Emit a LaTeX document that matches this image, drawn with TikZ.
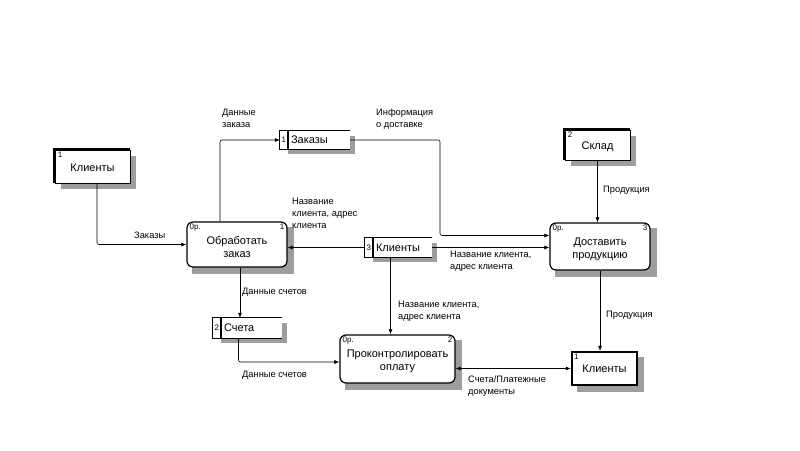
\documentclass[tikz,border=0pt]{standalone}
\usepackage{fontspec}
\setmainfont{Liberation Sans}
\usetikzlibrary{backgrounds,arrows.meta}

\tikzset{
  ext/.style={draw, fill=white, line width=0.8pt, font=\fontsize{11}{12}\selectfont},
  proc/.style={draw, fill=white, rounded corners=6pt, line width=1.2pt, align=center, font=\fontsize{11}{13}\selectfont},
  store/.style={fill=white, inner xsep=0pt, inner ysep=0pt, align=left, font=\fontsize{11}{12}\selectfont},
  num/.style={font=\fontsize{8}{8}\selectfont, inner sep=1pt},
  lbl/.style={font=\fontsize{9.3}{12}\selectfont, align=left, anchor=north west, inner sep=0pt},
  flow/.style={-{Latex[length=5pt,width=4pt]}, line width=0.6pt, rounded corners=2pt},
  hatch/.style={fill=black!38}
}

\begin{document}
\begin{tikzpicture}[x=1pt, y=-1pt]
	\useasboundingbox (0,0) rectangle (800,450);

	% external entities
	\node[ext, minimum width=75pt, minimum height=33pt] (klient1) at (92.5,166.5) {\rule{0pt}{11pt}Клиенты};
	\draw[line width=3pt] (klient1.south west) |- (klient1.north east);
	\node[num, anchor=north west] (n1) at ([xshift=2pt,yshift=-1pt]klient1.north west) {1};

	\node[ext, minimum width=65pt, minimum height=30pt] (sklad) at (597.5,145) {\rule{0pt}{11pt}Склад};
	\draw[line width=3pt] (sklad.south west) |- (sklad.north east);
	\node[num, anchor=north west] (n2) at ([xshift=2pt,yshift=-1pt]sklad.north west) {2};

	\node[ext, line width=2.4pt, minimum width=65pt, minimum height=33pt] (klient2) at (604.5,368.5) {Клиенты};
	\node[num, anchor=north west] (n3) at ([xshift=2pt,yshift=-2pt]klient2.north west) {1};

	% processes
	\node[proc, minimum width=100pt, minimum height=45pt] (obr) at (237,244.5) {\rule{0pt}{13pt}Обработать\\заказ};
	\node[num, anchor=north west] (p1a) at ([xshift=2pt,yshift=-1pt]obr.north west) {0р.};
	\node[num, anchor=north east] (p1b) at ([xshift=-2pt,yshift=-1pt]obr.north east) {1};

	\node[proc, minimum width=100pt, minimum height=47pt] (dost) at (600,246.5) {\rule{0pt}{13pt}Доставить\\продукцию};
	\node[num, anchor=north west] (p3a) at ([xshift=2pt,yshift=-1pt]dost.north west) {0р.};
	\node[num, anchor=north east] (p3b) at ([xshift=-2pt,yshift=-1pt]dost.north east) {3};

	\node[proc, minimum width=115pt, minimum height=48pt] (kontr) at (397.5,359) {\rule{0pt}{12pt}Проконтролировать\\оплату};
	\node[num, anchor=north west] (p2a) at ([xshift=2pt,yshift=-1pt]kontr.north west) {0р.};
	\node[num, anchor=north east] (p2b) at ([xshift=-2pt,yshift=-1pt]kontr.north east) {2};

	% data stores
	\node[store, text width=70pt, minimum height=18pt] (zakazy) at (315,140) {\hspace*{11pt}Заказы};
	\draw[line width=0.8pt] (zakazy.north east) -| (zakazy.south west) -- (zakazy.south east);
	\draw[line width=1.6pt] ([xshift=8pt]zakazy.north west) -- ([xshift=8pt]zakazy.south west);
	\node[num] (s1) at ([xshift=4pt]zakazy.west) {1};

	\node[store, text width=67pt, minimum height=19pt] (klient3) at (398.5,247.5) {\hspace*{11pt}Клиенты};
	\draw[line width=0.8pt] (klient3.north east) -| (klient3.south west) -- (klient3.south east);
	\draw[line width=1.6pt] ([xshift=8pt]klient3.north west) -- ([xshift=8pt]klient3.south west);
	\node[num] (s3) at ([xshift=4pt]klient3.west) {3};

	\node[store, text width=69pt, minimum height=20pt] (scheta) at (247.5,328) {\hspace*{11pt}Счета};
	\draw[line width=1.2pt] (scheta.north east) -| (scheta.south west) -- (scheta.south east);
	\draw[line width=1.6pt] ([xshift=8pt]scheta.north west) -- ([xshift=8pt]scheta.south west);
	\node[num] (s2) at ([xshift=4pt]scheta.west) {2};

	% shadows
	\begin{scope}[on background layer]
		\foreach \n in {klient1,sklad,klient2,obr,dost,kontr}
			\fill[hatch] ([shift={(6pt,-6pt)}]\n.south west) rectangle ([shift={(6pt,-6pt)}]\n.north east);
		\foreach \n in {zakazy,klient3,scheta}
			\fill[hatch] ([shift={(8pt,-5pt)}]\n.south west) rectangle ([shift={(5pt,-5pt)}]\n.north east);
	\end{scope}

	% flows
	\coordinate (c1) at (440,140);
	\draw[flow] ([xshift=4.5pt]klient1.south) |- (obr.west);
	\draw[flow] ([xshift=-17pt]obr.north) |- (zakazy.west);
	\draw[flow] (zakazy.east) -- (c1) |- ([yshift=11pt]dost.west);
	\draw[flow] (klient3.west) -- (obr.east |- klient3.west);
	\draw[flow] (klient3.east) -- (dost.west |- klient3.east);
	\draw[flow] (sklad.south) -- (sklad.south |- dost.north);
	\draw[flow] ([xshift=3pt]obr.south) -- ([xshift=3pt]obr.south |- scheta.north);
	\draw[flow] ([xshift=-8pt]klient3.south) -- ([xshift=-8pt]klient3.south |- kontr.north);
	\draw[flow] ([xshift=-9pt]scheta.south) |- ([yshift=-3pt]kontr.west);
	\draw[flow] (dost.south) -- (dost.south |- klient2.north);
	\draw[{Latex[length=5pt,width=4pt]}-{Latex[length=5pt,width=4pt]}, line width=0.6pt] (klient2.west) -- (kontr.east |- klient2.west);

	% labels
	\node[lbl] (l1) at (134,232) {Заказы};
	\node[lbl] (l2) at (222,109) {Данные\\заказа};
	\node[lbl] (l3) at (376,109) {Информация\\о доставке};
	\node[lbl] (l4) at (292,198) {Название\\клиента, адрес\\клиента};
	\node[lbl] (l5) at (450,251) {Название клиента,\\адрес клиента};
	\node[lbl] (l6) at (603,186) {Продукция};
	\node[lbl] (l7) at (242,288) {Данные счетов};
	\node[lbl] (l8) at (398,301) {Название клиента,\\адрес клиента};
	\node[lbl] (l9) at (242,371) {Данные счетов};
	\node[lbl] (l10) at (606,311) {Продукция};
	\node[lbl] (l11) at (468,376) {Счета/Платежные\\документы};
\end{tikzpicture}
\end{document}
